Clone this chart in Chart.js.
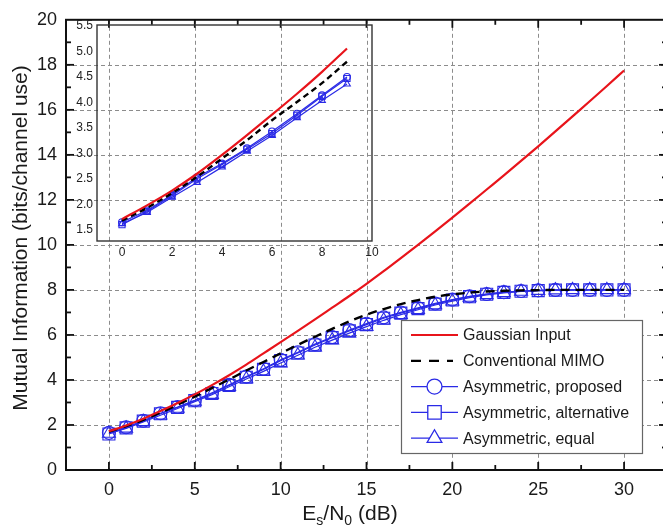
<!DOCTYPE html>
<html><head><meta charset="utf-8">
<script src="https://cdn.jsdelivr.net/npm/chart.js@4.4.0/dist/chart.umd.min.js"></script>
<style>
html,body{margin:0;padding:0;background:#fff;overflow:hidden;}
#wrap{position:relative;width:663px;height:529px;overflow:hidden;}
#main{position:absolute;left:0;top:0;}
#inset{position:absolute;left:60px;top:0px;}
</style></head><body>
<div id="wrap"><canvas id="main" width="700" height="529"></canvas><canvas id="inset" width="330" height="270"></canvas></div>
<script>
// ---------- data ----------
const snr = [0,1,2,3,4,5,6,7,8,9,10,11,12,13,14,15,16,17,18,19,20,21,22,23,24,25,26,27,28,29,30];
const gaussian     = [1.72,1.98,2.28,2.62,2.98,3.36,3.77,4.21,4.68,5.18,5.68,6.18,6.69,7.21,7.73,8.27,8.83,9.41,10.00,10.60,11.21,11.83,12.46,13.09,13.73,14.38,15.04,15.71,16.38,17.06,17.75];
const conventional = [1.70,1.95,2.23,2.55,2.90,3.26,3.64,4.02,4.42,4.80,5.18,5.56,5.92,6.27,6.60,6.90,7.15,7.37,7.55,7.70,7.80,7.88,7.93,7.96,7.98,7.99,8.00,8.00,8.00,8.00,8.00];
const proposed     = [1.65,1.90,2.19,2.52,2.80,3.10,3.43,3.78,4.15,4.50,4.90,5.23,5.59,5.91,6.22,6.50,6.78,7.00,7.20,7.40,7.57,7.72,7.82,7.90,7.95,7.98,8.00,8.00,8.00,8.00,8.00];
const alternative  = [1.60,1.87,2.17,2.50,2.78,3.08,3.40,3.76,4.12,4.47,4.86,5.20,5.55,5.88,6.18,6.46,6.74,6.97,7.17,7.37,7.55,7.70,7.81,7.89,7.94,7.97,7.99,8.00,8.00,8.00,8.00];
const equal        = [1.62,1.85,2.14,2.43,2.73,3.04,3.35,3.70,4.04,4.38,4.75,5.10,5.45,5.77,6.08,6.37,6.65,6.90,7.12,7.33,7.50,7.66,7.78,7.87,7.93,7.97,7.99,8.00,8.00,8.00,8.00];

const insetSnr = [0,1,2,3,4,5,6,7,8,9];
const insetGaussian     = [1.71,1.98,2.27,2.60,2.97,3.36,3.76,4.17,4.60,5.06];
const insetConventional = [1.68,1.93,2.22,2.54,2.90,3.26,3.65,4.01,4.38,4.80];
const insetProposed     = [1.65,1.88,2.19,2.53,2.80,3.10,3.43,3.78,4.14,4.50];
const insetAlternative  = [1.60,1.86,2.17,2.50,2.78,3.08,3.39,3.75,4.12,4.47];
const insetEqual        = [1.62,1.84,2.14,2.43,2.73,3.04,3.35,3.70,4.04,4.36];

const xTicks = [0,5,10,15,20,25,30];
const yTicks = [0,2,4,6,8,10,12,14,16,18,20];
const insetXTicks = [0,2,4,6,8,10];
const insetYTicks = [1.5,2.0,2.5,3.0,3.5,4.0,4.5,5.0,5.5];

const labels = ['Gaussian Input','Conventional MIMO','Asymmetric, proposed','Asymmetric, alternative','Asymmetric, equal'];
const xTitle = ['E','s','/N','0',' (dB)'];
const yTitle = 'Mutual Information (bits/channel use)';

// ---------- styles ----------
const FONT = '"Liberation Sans", Arial, sans-serif';
const RED = '#e8141b', BLUE = '#2a2ae6';
const pts = (xs, ys) => xs.map((x,i)=>({x:x, y:ys[i]}));

function makeSets(xs, g, c, p, a, e, big) {
  const r = big ? 1 : 0.45;
  const add = big ? 0 : 0.5;
  return [
    {label:labels[0], data:pts(xs,g), borderColor:RED, borderWidth:2.2, pointRadius:0, cubicInterpolationMode:'monotone'},
    {label:labels[1], data:pts(xs,c), borderColor:'#000', borderWidth:2.4, borderDash: big?[9,6]:[6,4], pointRadius:0, cubicInterpolationMode:'monotone'},
    {label:labels[2], data:pts(xs,p), borderColor:BLUE, borderWidth:1.2, pointStyle:'circle', pointRadius:6.5*r+add, pointBorderColor:BLUE, pointBackgroundColor:'rgba(255,255,255,0)', pointBorderWidth:1.1},
    {label:labels[3], data:pts(xs,a), borderColor:BLUE, borderWidth:1.2, pointStyle:'rect', pointRadius:8.5*r+add, pointBorderColor:BLUE, pointBackgroundColor:'rgba(255,255,255,0)', pointBorderWidth:1.1},
    {label:labels[4], data:pts(xs,e), borderColor:BLUE, borderWidth:1.2, pointStyle:'triangle', pointRadius:7.5*r+add, pointBorderColor:BLUE, pointBackgroundColor:'rgba(255,255,255,0)', pointBorderWidth:1.1}
  ];
}

function setTicks(arr){ return function(scale){ scale.ticks = arr.map(v=>({value:v})); }; }

// ---------- main chart ----------
const mainDecor = {
  id:'mainDecor',
  beforeDraw(c){
    const ctx=c.ctx; ctx.save(); ctx.fillStyle='#fff'; ctx.fillRect(0,0,c.width,c.height); ctx.restore();
  },
  beforeDatasetsDraw(c){
    const ctx=c.ctx, a=c.chartArea, xs=c.scales.x, ys=c.scales.y;
    ctx.save();
    ctx.strokeStyle='#8c8c8c'; ctx.lineWidth=1; ctx.setLineDash([4,3]);
    xTicks.forEach(v=>{ const px=Math.round(xs.getPixelForValue(v))+0.5; ctx.beginPath(); ctx.moveTo(px,a.top); ctx.lineTo(px,a.bottom); ctx.stroke(); });
    yTicks.forEach(v=>{ if(v===0||v===20) return; const py=Math.round(ys.getPixelForValue(v))+0.5; ctx.beginPath(); ctx.moveTo(a.left,py); ctx.lineTo(a.right,py); ctx.stroke(); });
    ctx.restore();
  },
  afterDatasetsDraw(c){
    const ctx=c.ctx, a=c.chartArea, xs=c.scales.x, ys=c.scales.y;
    ctx.save();
    ctx.strokeStyle='#111'; ctx.lineWidth=2; ctx.setLineDash([]);
    ctx.strokeRect(a.left, a.top, a.right-a.left, a.bottom-a.top);
    ctx.lineWidth=1.8;
    const tick=(x1,y1,x2,y2)=>{ctx.beginPath();ctx.moveTo(x1,y1);ctx.lineTo(x2,y2);ctx.stroke();};
    for(let v=0; v<=32.5; v+=2.5){
      const px=xs.getPixelForValue(v); const L=(v%5===0)?8:5;
      tick(px,a.bottom,px,a.bottom-L); tick(px,a.top,px,a.top+L);
    }
    for(let v=1; v<20; v+=1){
      const py=ys.getPixelForValue(v); const L=(v%2===0)?8:5;
      tick(a.left,py,a.left+L,py); tick(a.right,py,a.right-L,py);
    }
    ctx.restore();
  },
  afterDraw(c){
    const ctx=c.ctx;
    ctx.save();
    // legend
    const bx=401, by=320, bw=241, bh=133;
    ctx.fillStyle='#fff'; ctx.fillRect(bx,by,bw,bh);
    ctx.strokeStyle='#666'; ctx.lineWidth=1.2; ctx.strokeRect(bx+0.5,by+0.5,bw,bh);
    c.data.datasets.forEach((d,i)=>{
      const y = 335 + i*25.8;
      ctx.save();
      ctx.strokeStyle=d.borderColor; ctx.lineWidth=(i<2)?2.2:1.2;
      ctx.setLineDash(i===1?[10,8]:[]);
      ctx.beginPath(); ctx.moveTo(411,y); ctx.lineTo(i===1?453:458,y); ctx.stroke();
      ctx.restore();
      if(i>=2){
        ctx.save();
        ctx.strokeStyle=BLUE; ctx.fillStyle='#fff'; ctx.lineWidth=1.3;
        Chart.helpers.drawPoint(ctx,{pointStyle:d.pointStyle, radius:d.pointRadius+1, borderWidth:1.3, rotation:0}, 434.5, y);
        ctx.restore();
      }
      ctx.font='16px '+FONT; ctx.fillStyle='#1a1a1a'; ctx.textBaseline='middle'; ctx.textAlign='left';
      ctx.fillText(d.label, 463, y+1);
    });
    // axis titles
    ctx.fillStyle='#1a1a1a';
    ctx.save();
    ctx.translate(21,238); ctx.rotate(-Math.PI/2);
    ctx.font='21px '+FONT; ctx.textAlign='center'; ctx.textBaseline='middle';
    ctx.fillText(yTitle,0,0);
    ctx.restore();
    // x title with subscripts
    const big='21px '+FONT, small='14px '+FONT;
    let total=0;
    xTitle.forEach((t,i)=>{ ctx.font=(i%2===1)?small:big; total+=ctx.measureText(t).width; });
    let x=350-total/2; const base=520;
    ctx.textAlign='left'; ctx.textBaseline='alphabetic';
    xTitle.forEach((t,i)=>{ const sub=(i%2===1); ctx.font=sub?small:big; ctx.fillText(t,x,base+(sub?5:0)); x+=ctx.measureText(t).width; });
    ctx.restore();
  }
};

new Chart(document.getElementById('main'), {
  type:'line',
  data:{datasets: makeSets(snr, gaussian, conventional, proposed, alternative, equal, true)},
  options:{
    responsive:false, animation:false, devicePixelRatio:1,
    layout:{padding:{top:11,right:33,left:0,bottom:0}},
    plugins:{legend:{display:false}, tooltip:{enabled:false}},
    scales:{
      x:{type:'linear', min:-2.5, max:32.5, afterBuildTicks:setTicks(xTicks), afterFit(s){s.height=59;},
         grid:{display:false, drawTicks:false}, border:{display:false},
         ticks:{padding:9, color:'#1a1a1a', font:{family:FONT, size:18}, maxRotation:0}},
      y:{type:'linear', min:0, max:20, afterBuildTicks:setTicks(yTicks), afterFit(s){s.width=66;},
         grid:{display:false, drawTicks:false}, border:{display:false},
         ticks:{padding:9, color:'#1a1a1a', font:{family:FONT, size:18}}}
    }
  },
  plugins:[mainDecor]
});

// ---------- inset chart ----------
const insetDecor = {
  id:'insetDecor',
  afterDatasetsDraw(c){
    const ctx=c.ctx, a=c.chartArea;
    ctx.save(); ctx.strokeStyle='#333'; ctx.lineWidth=1.4;
    ctx.strokeRect(a.left,a.top,a.right-a.left,a.bottom-a.top);
    ctx.restore();
  }
};

new Chart(document.getElementById('inset'), {
  type:'line',
  data:{datasets: makeSets(insetSnr, insetGaussian, insetConventional, insetProposed, insetAlternative, insetEqual, false)},
  options:{
    responsive:false, animation:false, devicePixelRatio:1,
    layout:{padding:{top:25,right:18,left:0,bottom:0}},
    plugins:{legend:{display:false}, tooltip:{enabled:false}},
    scales:{
      x:{type:'linear', min:-1, max:10, afterBuildTicks:setTicks(insetXTicks), afterFit(s){s.height=29;},
         grid:{display:false, drawTicks:false}, border:{display:false},
         ticks:{padding:4, color:'#222', font:{family:FONT, size:12}, maxRotation:0}},
      y:{type:'linear', min:1.28, max:5.52, afterBuildTicks:setTicks(insetYTicks), afterFit(s){s.width=37;},
         grid:{display:false, drawTicks:false}, border:{display:false},
         ticks:{padding:4, color:'#222', font:{family:FONT, size:12}, callback:v=>Number(v).toFixed(1)}}
    }
  },
  plugins:[insetDecor]
});
</script>
</body></html>
